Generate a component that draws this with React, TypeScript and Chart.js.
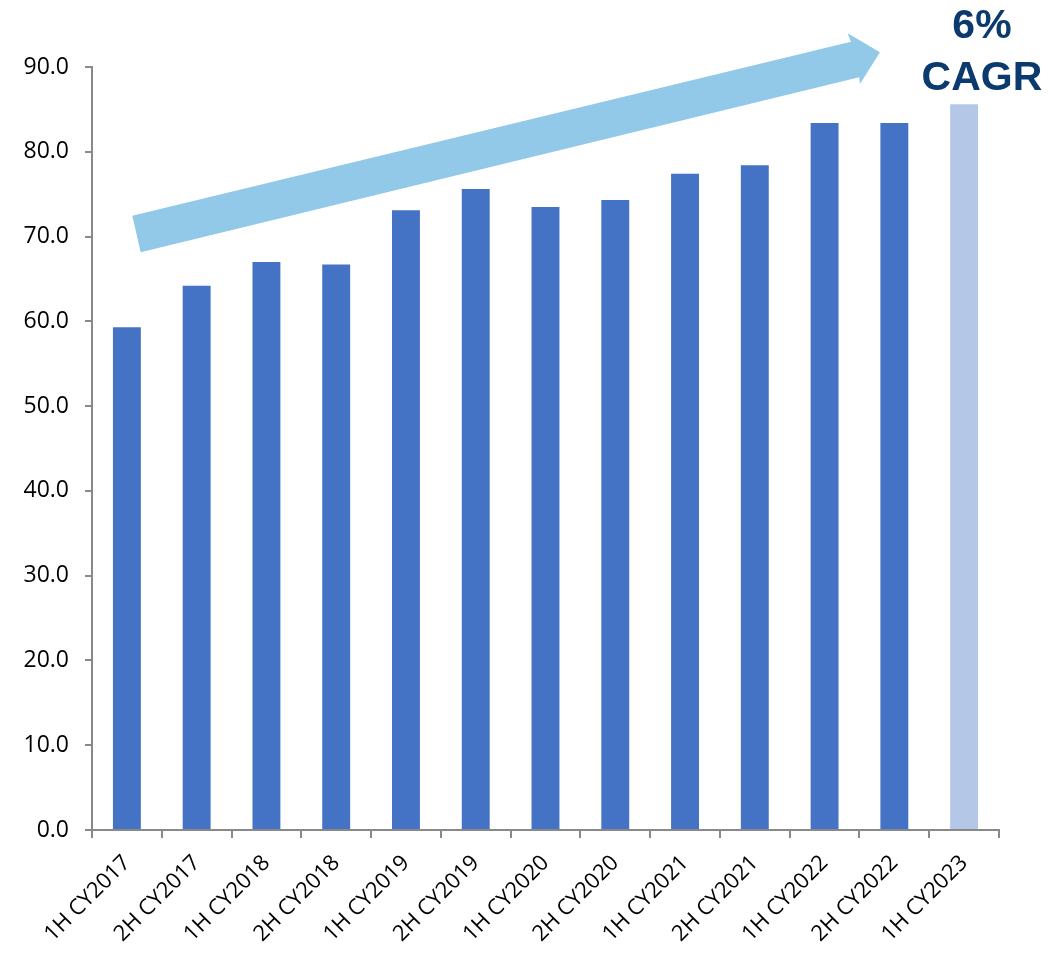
import React, { useEffect, useRef } from "react";
import { Chart, registerables } from "chart.js";

Chart.register(...registerables);

const categories = [
  "1H CY2017", "2H CY2017", "1H CY2018", "2H CY2018", "1H CY2019", "2H CY2019",
  "1H CY2020", "2H CY2020", "1H CY2021", "2H CY2021", "1H CY2022", "2H CY2022", "1H CY2023",
];
const values = [59.3, 64.2, 67.0, 66.7, 73.1, 75.6, 73.5, 74.3, 77.4, 78.4, 83.4, 83.4, 85.6];
const barColors = [
  "#4472C4", "#4472C4", "#4472C4", "#4472C4", "#4472C4", "#4472C4", "#4472C4",
  "#4472C4", "#4472C4", "#4472C4", "#4472C4", "#4472C4", "#B4C7E7",
];
const cagrLines = ["6%", "CAGR"];

// Arrow outline in (category index, value) units
const arrowX = [0.078, 10.378, 10.33, 10.794, 10.507, 10.497, 0.198];
const arrowY = [72.46, 92.98, 93.97, 91.73, 87.99, 88.78, 68.14];
const cagrX = 12.256;
const cagrY = [93.4, 87.3];

const arrowPlugin = {
  id: "arrowPlugin",
  afterDraw(chart: any) {
    const { ctx, scales } = chart;
    const xs = scales.x;
    const ys = scales.y;
    ctx.save();
    ctx.fillStyle = "#92C8E8";
    ctx.beginPath();
    arrowX.forEach((v, i) => {
      const px = xs.getPixelForValue(v);
      const py = ys.getPixelForValue(arrowY[i]);
      if (i === 0) ctx.moveTo(px, py);
      else ctx.lineTo(px, py);
    });
    ctx.closePath();
    ctx.fill();
    ctx.fillStyle = "#0B3A6E";
    ctx.font = "bold 41px 'Liberation Sans', Arial, sans-serif";
    ctx.textAlign = "center";
    ctx.textBaseline = "alphabetic";
    cagrLines.forEach((t, i) => {
      ctx.fillText(t, xs.getPixelForValue(cagrX), ys.getPixelForValue(cagrY[i]));
    });
    ctx.restore();
  },
};

export default function App() {
  const ref = useRef<HTMLCanvasElement>(null);
  useEffect(() => {
    if (!ref.current) return;
    const chart = new Chart(ref.current, {
      type: "bar",
      data: {
        labels: categories,
        datasets: [
          {
            data: values,
            backgroundColor: barColors,
            barPercentage: 0.4,
            categoryPercentage: 1,
          },
        ],
      },
      options: {
        animation: false,
        responsive: false,
        maintainAspectRatio: false,
        layout: { padding: { top: 59, right: 56, left: 0, bottom: 0 } },
        plugins: { legend: { display: false }, tooltip: { enabled: false } },
        scales: {
          x: {
            grid: {
              offset: true,
              drawOnChartArea: false,
              drawTicks: true,
              tickLength: 8,
              color: "#898989",
              lineWidth: 2,
            },
            border: { color: "#898989", width: 2 },
            ticks: {
              maxRotation: 45,
              minRotation: 45,
              autoSkip: false,
              color: "#000",
              padding: 12,
              font: { family: "'Open Sans', sans-serif", size: 22 },
            },
            afterFit(scale: any) {
              scale.height = 123;
            },
          },
          y: {
            min: 0,
            max: 90,
            grid: {
              drawOnChartArea: false,
              drawTicks: true,
              tickLength: 7,
              color: "#898989",
              lineWidth: 2,
            },
            border: { color: "#898989", width: 2 },
            ticks: {
              stepSize: 10,
              color: "#000",
              padding: 16,
              font: { family: "'Open Sans', sans-serif", size: 23 },
              callback: (v: any) => Number(v).toFixed(1),
            },
            afterFit(scale: any) {
              scale.width = 84;
            },
          },
        },
      },
      plugins: [arrowPlugin],
    });
    return () => chart.destroy();
  }, []);
  return <canvas ref={ref} width={1047} height={945} style={{ display: "block" }} />;
}
